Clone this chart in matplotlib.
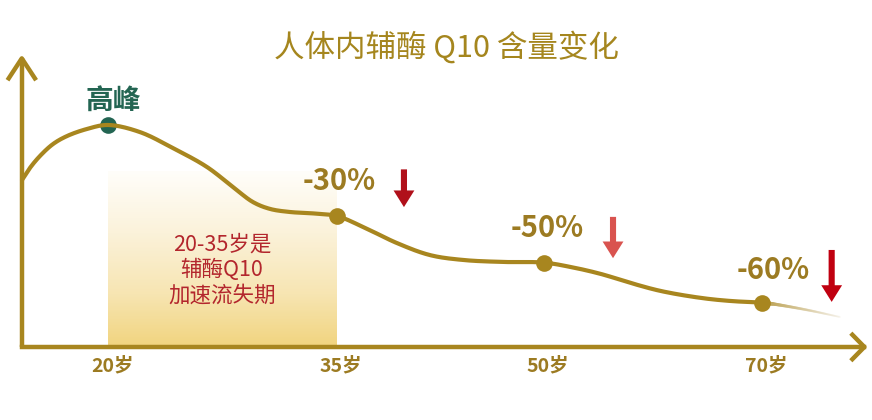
import numpy as np
import matplotlib.pyplot as plt
from matplotlib.colors import LinearSegmentedColormap
from matplotlib.collections import LineCollection

plt.rcParams['font.family'] = ['Noto Sans CJK SC', 'DejaVu Sans']

# ---- data ----
age_labels = ['20岁', '35岁', '50岁', '70岁']
age_pos = [1, 2.05, 3, 4]
# level of the key points (peak = 100)
key_level = [100, 59, 38, 20]
change_labels = ['高峰', '-30%', '-50%', '-60%']

# curve (position, level)
curve_x = [0.606, 0.642, 0.688, 0.748, 0.812, 0.904, 1.0, 1.147, 1.298, 1.454,
           1.573, 1.665, 1.743, 1.835, 1.95, 2.05, 2.17, 2.326, 2.477, 2.628,
           2.812, 3.0, 3.124, 3.261, 3.399, 3.537, 3.720, 3.858, 4.0]
curve_y = [75.2, 80.6, 86.0, 91.4, 95.0, 98.2, 100, 96.8, 89.6, 81.1,
           72.1, 65.3, 62.2, 60.8, 60.1, 59, 54.1, 46.8, 41.4, 39.2,
           38.3, 38, 36.0, 32.9, 28.8, 25.2, 22.1, 20.7, 20]
# faded tail after 70
tail_x = [4.0, 4.05, 4.206, 4.358]
tail_y = [20, 19.4, 16.7, 13.5]

box_text = '20-35岁是\n辅酶Q10\n加速流失期'
title = '人体内辅酶 Q10 含量变化'

gold = '#a8861f'
text_gold = '#9c7b22'

XLIM = (0.505, 4.505)
YLIM = (-32.9, 156.3)
W, H = 8.72, 4.2
# data units -> screen aspect, so the spline is smoothed as it is seen
XS = W / (XLIM[1] - XLIM[0])
YS = H / (YLIM[1] - YLIM[0])


def smooth(xs, ys, n=24):
    # centripetal catmull-rom through the read points
    p = np.column_stack([np.array(xs) * XS, np.array(ys) * YS])
    p = np.vstack([2 * p[0] - p[1], p, 2 * p[-1] - p[-2]])
    out = []
    for i in range(1, len(p) - 2):
        p0, p1, p2, p3 = p[i - 1], p[i], p[i + 1], p[i + 2]
        t0 = 0.0
        t1 = t0 + np.linalg.norm(p1 - p0) ** 0.5
        t2 = t1 + np.linalg.norm(p2 - p1) ** 0.5
        t3 = t2 + np.linalg.norm(p3 - p2) ** 0.5
        t = np.linspace(t1, t2, n, endpoint=False)[:, None]
        a1 = (t1 - t) / (t1 - t0) * p0 + (t - t0) / (t1 - t0) * p1
        a2 = (t2 - t) / (t2 - t1) * p1 + (t - t1) / (t2 - t1) * p2
        a3 = (t3 - t) / (t3 - t2) * p2 + (t - t2) / (t3 - t2) * p3
        b1 = (t2 - t) / (t2 - t0) * a1 + (t - t0) / (t2 - t0) * a2
        b2 = (t3 - t) / (t3 - t1) * a2 + (t - t1) / (t3 - t1) * a3
        out.append((t2 - t) / (t2 - t1) * b1 + (t - t1) / (t2 - t1) * b2)
    out.append(p[-2][None, :])
    out = np.vstack(out)
    return out[:, 0] / XS, out[:, 1] / YS


fig = plt.figure(figsize=(W, H), dpi=100)
ax = fig.add_axes([0, 0, 1, 1])
ax.set_xlim(*XLIM)
ax.set_ylim(*YLIM)
ax.axis('off')

# gradient box 20-35
cmap = LinearSegmentedColormap.from_list(
    'g', [(0, '#f1d47f'), (0.3, '#f7e5b2'), (0.65, '#fbf2da'), (1, '#fffefa')])
grad = np.linspace(0, 1, 200).reshape(-1, 1)
ax.imshow(grad, extent=(age_pos[0], age_pos[1], 0, 79), origin='lower',
          cmap=cmap, aspect='auto', zorder=1)

# axes with arrows
ax.plot([0.605, 0.605], [0, 130], color=gold, lw=3.2, solid_capstyle='butt', zorder=3)
ax.plot([0.545, 0.605, 0.665], [121, 130, 121], color=gold, lw=3.2, zorder=3)
ax.plot([0.605, 4.47], [0, 0], color=gold, lw=3.2, zorder=3)
ax.plot([4.415, 4.47, 4.415], [5.5, 0, -5.5], color=gold, lw=3.2, zorder=3)

# curve
sx, sy = smooth(curve_x, curve_y)
ax.plot(sx, sy, color=gold, lw=3, solid_capstyle='round', zorder=4)

tx, ty = smooth(tail_x, tail_y, n=30)
pts = np.column_stack([tx, ty]).reshape(-1, 1, 2)
segs = np.concatenate([pts[:-1], pts[1:]], axis=1)
f = np.linspace(0, 1, len(segs))
start = np.array([0xa8, 0x86, 0x1f]) / 255
end = np.array([0xf0, 0xea, 0xdc]) / 255
cols = [tuple(start * (1 - v) + end * v) + (1 - 0.6 * v,) for v in f]
ax.add_collection(LineCollection(segs, colors=cols, linewidths=3 - 1.8 * f,
                                 capstyle='round', zorder=4))

# key points (peak dot sits under the curve)
dot_colors = ['#236552', gold, gold, gold]
dot_z = [3.5, 5, 5, 5]
for x, y, c, z in zip(age_pos, key_level, dot_colors, dot_z):
    ax.plot(x, y, 'o', ms=12, color=c, mec='none', zorder=z)

# labels on points
ax.text(age_pos[0] + 0.025, key_level[0] + 4, change_labels[0], color='#236552',
        fontsize=20, fontweight='bold', ha='center', va='bottom')
label_dx = [0, 0.01, 0.015, 0.05]
label_dy = [0, 9, 9, 8]
for i in range(1, 4):
    ax.text(age_pos[i] + label_dx[i], key_level[i] + label_dy[i], change_labels[i],
            color=text_gold, fontsize=21, fontweight='bold', ha='center', va='bottom')

# red arrows
arrow_x = [2.358, 3.317, 4.32]
arrow_top = [80, 58.6, 43.7]
arrow_bottom = [63, 40, 20.3]
arrow_col = ['#b0101a', '#d9534f', '#c00010']
for x, t, b, c in zip(arrow_x, arrow_top, arrow_bottom, arrow_col):
    ax.annotate('', xy=(x, b), xytext=(x, t),
                arrowprops=dict(arrowstyle='simple,head_width=0.75,head_length=0.6,tail_width=0.22',
                                color=c, lw=0, mutation_scale=20,
                                shrinkA=0, shrinkB=0), zorder=6)

# tick labels
for x, lab in zip(age_pos, age_labels):
    ax.text(x + 0.02, -8.5, lab, color=text_gold, fontsize=14, fontweight='bold',
            ha='center', va='center')

ax.text(1.523, 34.7, box_text, color='#b3262d',
        fontsize=15.5, ha='center', va='center', linespacing=1.2, zorder=6)

fig.text(0.512, 0.888, title, color='#a5861e', fontsize=22, fontweight='medium',
         ha='center', va='center')

plt.savefig('out.png', dpi=100)
